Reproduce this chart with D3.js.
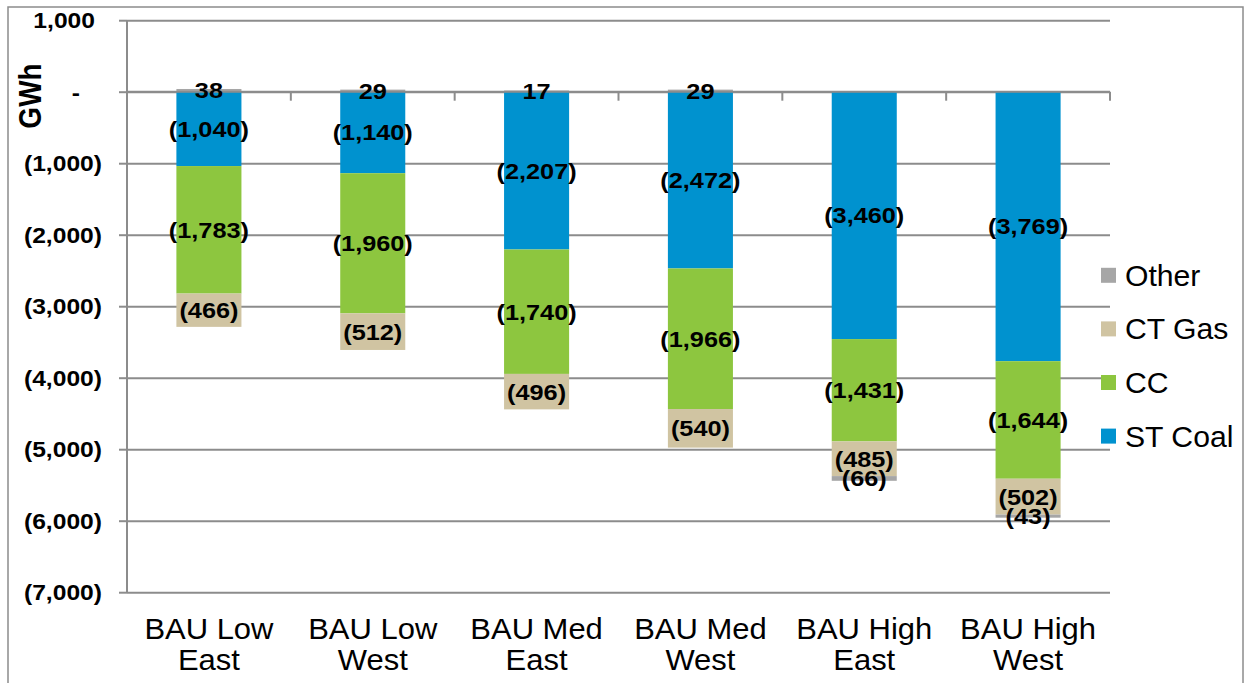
<!DOCTYPE html>
<html><head><meta charset="utf-8">
<script src="https://cdn.jsdelivr.net/npm/d3@7"></script>
<style>
html,body{margin:0;padding:0;background:#fff;}
text{font-family:"Liberation Sans",Arial,Helvetica,sans-serif;}
</style></head>
<body>
<svg id="chart" width="1247" height="683"></svg>
<script>
const categories = [["BAU Low","East"],["BAU Low","West"],["BAU Med","East"],["BAU Med","West"],["BAU High","East"],["BAU High","West"]];
const seriesNames = ["ST Coal","CC","CT Gas","Other"];
const stCoal = [-1040,-1140,-2207,-2472,-3460,-3769];
const cc     = [-1783,-1960,-1740,-1966,-1431,-1644];
const ctGas  = [-466,-512,-496,-540,-485,-502];
const other  = [38,29,17,29,-66,-43];
const yTicks = [1000,0,-1000,-2000,-3000,-4000,-5000,-6000,-7000];
const legendOrder = ["Other","CT Gas","CC","ST Coal"];
const colors = {"ST Coal":"#0092CF","CC":"#8DC63F","CT Gas":"#D0C4A2","Other":"#A6A6A6"};

const svg = d3.select("#chart");
const L = 127, R = 1110, T = 20.2, B = 592.2;
const grid = "#8c8c8c";

// outer border
svg.append("rect").attr("x",8).attr("y",7).attr("width",1235).attr("height",700)
  .attr("fill","none").attr("stroke",grid).attr("stroke-width",1.5);

const names = categories.map(c=>c.join(" "));
const x = d3.scaleBand().domain(names).range([L,R]).padding(0);
const y = d3.scaleLinear().domain([-7000,1000]).range([B,T]);

const rows = names.map((n,i)=>({cat:n,"ST Coal":stCoal[i],"CC":cc[i],"CT Gas":ctGas[i],"Other":other[i]}));
const stacked = d3.stack().keys(seriesNames).offset(d3.stackOffsetDiverging)(rows);

// gridlines
svg.append("g").attr("transform",`translate(${L},0)`)
  .call(d3.axisLeft(y).tickValues(yTicks).tickSize(-(R-L)).tickFormat(""))
  .call(g=>g.select(".domain").remove())
  .call(g=>g.selectAll("line").attr("stroke",grid).attr("stroke-width",2));

// y axis
const fmt = v => v===0 ? "-" : (v<0 ? "(" + d3.format(",")(-v) + ")" : d3.format(",")(v));
const yAx = svg.append("g").attr("transform",`translate(${L},0)`)
  .call(d3.axisLeft(y).tickValues(yTicks).tickSize(8).tickPadding(0).tickFormat(""));
yAx.select(".domain").attr("stroke",grid).attr("stroke-width",2).attr("d",`M0,${T}V${B}`);
yAx.selectAll("line").attr("stroke",grid).attr("stroke-width",2);
yAx.selectAll(".tick").each(function(v){
  const xr = v<0 ? -25 : (v>0 ? -32 : -47);
  d3.select(this).append("text")
    .attr("transform",`translate(${xr},0) scale(1.12,1)`)
    .attr("text-anchor","end").attr("dy","0.35em")
    .attr("fill","#000").attr("font-weight","bold").attr("font-size",22)
    .text(fmt(v));
});

// y title
svg.append("text").attr("transform","translate(30,96) rotate(-90) scale(1,1.12)")
  .attr("text-anchor","middle").attr("dy","0.35em")
  .attr("font-weight","bold").attr("font-size",28).attr("fill","#000").text("GWh");

// bars
const bw = x.bandwidth()*0.397;
const barG = svg.append("g");
stacked.forEach(s=>{
  barG.selectAll(null).data(s).enter().append("rect")
    .attr("x",d=>x(d.data.cat)+x.bandwidth()/2-bw/2)
    .attr("width",bw)
    .attr("y",d=>y(Math.max(d[0],d[1])))
    .attr("height",d=>Math.abs(y(d[0])-y(d[1])))
    .attr("fill",colors[s.key]);
});

// x axis at zero with category boundary ticks
svg.append("g").attr("transform",`translate(0,${y(0)})`)
  .call(g=>g.append("line").attr("x1",L).attr("x2",R).attr("stroke",grid).attr("stroke-width",2))
  .call(g=>g.selectAll(null).data(names.map((n,i)=>i+1)).enter().append("line")
    .attr("x1",i=>L+i*x.bandwidth()).attr("x2",i=>L+i*x.bandwidth())
    .attr("y1",0).attr("y2",9).attr("stroke",grid).attr("stroke-width",2));

// data labels
const lblFmt = v => v<0 ? "(" + d3.format(",")(-v) + ")" : d3.format(",")(v);
const lblG = svg.append("g");
stacked.forEach(s=>{
  s.forEach(d=>{
    const v = d.data[s.key];
    const cx = x(d.data.cat)+x.bandwidth()/2;
    const cy = y((d[0]+d[1])/2);
    lblG.append("text")
      .attr("transform",`translate(${cx},${cy}) scale(1.15,1)`)
      .attr("text-anchor","middle").attr("dy","0.36em")
      .attr("font-weight","bold").attr("font-size",22).attr("fill","#000")
      .text(lblFmt(v));
  });
});

// category labels
const catG = svg.append("g");
categories.forEach((c,i)=>{
  const cx = x(names[i])+x.bandwidth()/2;
  c.forEach((line,j)=>{
    catG.append("text")
      .attr("transform",`translate(${cx},${639+j*31}) scale(1.05,1)`)
      .attr("text-anchor","middle").attr("font-size",29.5).attr("fill","#000")
      .text(line);
  });
});

// legend
const lg = svg.append("g");
legendOrder.forEach((k,i)=>{
  const cy = 275.3 + i*53.6;
  lg.append("rect").attr("x",1101).attr("y",cy-7.5).attr("width",15).attr("height",15).attr("fill",colors[k]);
  lg.append("text").attr("transform",`translate(1125,${cy}) scale(1.04,1)`)
    .attr("dy","0.36em").attr("font-size",29).attr("fill","#000").text(k);
});
</script>
</body></html>
